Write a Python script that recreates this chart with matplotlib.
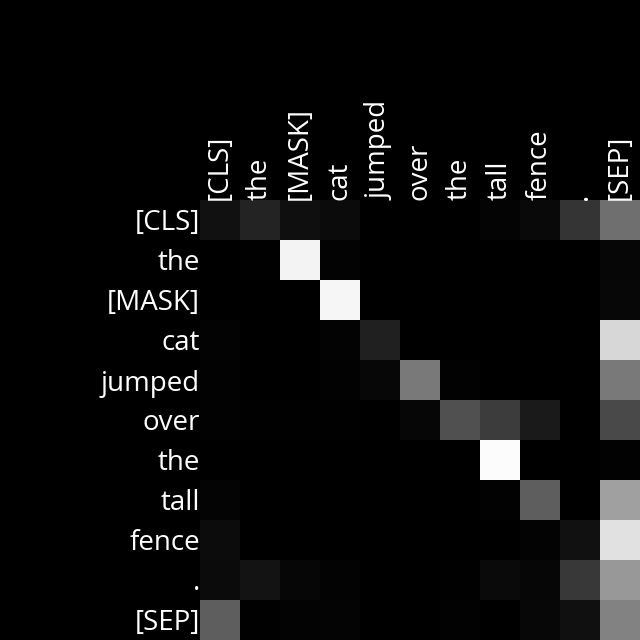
import numpy as np
import matplotlib.pyplot as plt

tokens = ["[CLS]", "the", "[MASK]", "cat", "jumped", "over", "the", "tall", "fence", ".", "[SEP]"]

# attention weights (rows ~ sum to 1)
row_cls = [17, 35, 15, 11, 0, 0, 0, 4, 9, 53, 111]
row_the = [0, 1, 243, 3, 0, 0, 0, 0, 0, 0, 6]
row_mask = [0, 0, 0, 246, 0, 0, 0, 0, 0, 0, 7]
row_cat = [3, 0, 0, 3, 32, 0, 0, 0, 0, 0, 215]
row_jumped = [2, 0, 0, 2, 7, 122, 2, 0, 0, 0, 122]
row_over = [2, 1, 1, 1, 0, 6, 80, 61, 26, 0, 74]
row_the2 = [0, 0, 0, 0, 0, 0, 0, 252, 0, 0, 2]
row_tall = [4, 0, 0, 0, 0, 0, 0, 2, 94, 0, 160]
row_fence = [12, 0, 0, 0, 0, 0, 0, 0, 3, 17, 225]
row_dot = [11, 19, 6, 3, 0, 0, 1, 10, 6, 56, 152]
row_sep = [94, 1, 3, 4, 0, 0, 2, 0, 7, 16, 130]

attn = np.array([row_cls, row_the, row_mask, row_cat, row_jumped, row_over,
                 row_the2, row_tall, row_fence, row_dot, row_sep]) / 255.0

plt.rcParams['font.family'] = ['Open Sans', 'DejaVu Sans']

fig = plt.figure(figsize=(6.4, 6.4), dpi=100, facecolor='black')
ax = fig.add_axes([200 / 640, 0, 440 / 640, 440 / 640])
ax.set_facecolor('black')
ax.imshow(attn, cmap='gray', vmin=0, vmax=1, interpolation='nearest', aspect='auto')

ax.xaxis.tick_top()
ax.set_xticks(range(len(tokens)))
ax.set_xticklabels(tokens, rotation=90, color='white', fontsize=20)
ax.set_yticks(range(len(tokens)))
ax.set_yticklabels(tokens, color='white', fontsize=20)
ax.tick_params(length=0, pad=0)
for s in ax.spines.values():
    s.set_visible(False)

fig.savefig("out.png", dpi=100, facecolor='black')
